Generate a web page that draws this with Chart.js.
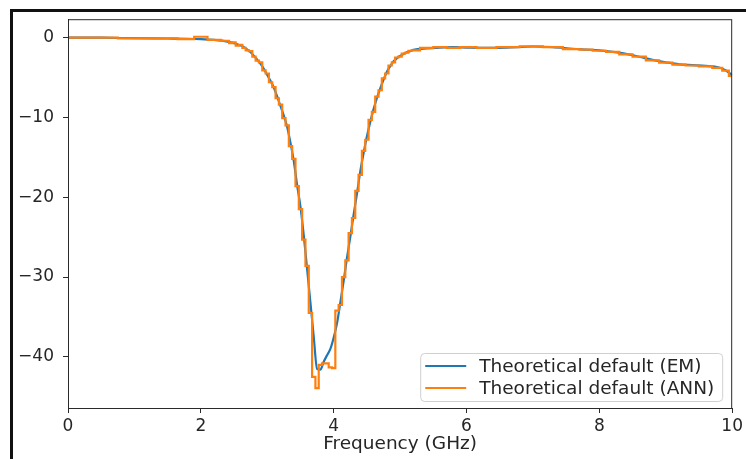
<!DOCTYPE html>
<html>
<head>
<meta charset="utf-8">
<script src="https://cdn.jsdelivr.net/npm/chart.js@4/dist/chart.umd.min.js"></script>
<style>
  body { margin: 0; background: #fff; }
  #wrap { position: relative; width: 746px; height: 459px; overflow: hidden; }
  #frame { position: absolute; left: 10px; top: 9px; right: -5px; bottom: -5px;
           border-left: 3px solid #111; border-top: 3px solid #111; }
  canvas { position: absolute; left: 0; top: 0; }
</style>
</head>
<body>
<div id="wrap">
  <canvas id="s-param" width="746" height="459"></canvas>
  <div id="frame"></div>
</div>
<script>
// frequency grid in GHz, denser around the notch
const frequencies = [0, 0.5, 1.0, 1.5, 1.8, 2.0, 2.2,
    2.4, 2.45, 2.5, 2.55, 2.6, 2.65, 2.7, 2.75, 2.8, 2.85, 2.9, 2.95,
    3.0, 3.05, 3.1, 3.15, 3.2, 3.25, 3.3, 3.35, 3.4, 3.45, 3.5, 3.55, 3.6, 3.65, 3.7, 3.75,
    3.8, 3.85, 3.9, 3.95, 4.0, 4.05, 4.1, 4.15, 4.2, 4.25, 4.3, 4.35, 4.4, 4.45, 4.5, 4.55,
    4.6, 4.65, 4.7, 4.75, 4.8, 4.85, 4.9, 4.95, 5.0, 5.05, 5.1, 5.15, 5.2,
    5.4, 5.6, 5.8, 6.0, 6.3, 6.6, 7.0, 7.3,
    7.6, 7.8, 8.0, 8.2, 8.4, 8.6, 8.8, 9.0, 9.2, 9.4, 9.6, 9.8, 9.9, 10.0];

const emValues = [0, -0.02, -0.08, -0.12, -0.15, -0.2, -0.3,
    -0.5, -0.6, -0.7, -0.85, -1.0, -1.2, -1.5, -1.85, -2.3, -2.8, -3.3, -3.95,
    -4.7, -5.45, -6.3, -7.4, -8.6, -9.8, -11.2, -13.2, -15.5, -18.5, -21.2, -24.8, -29, -33.2, -37.5, -41.5,
    -41.6, -40.6, -39.8, -39, -37.6, -35.8, -33.2, -30.5, -27.6, -25, -22.2, -19.6, -16.8, -14.5, -12.4, -10.6,
    -9.0, -7.6, -6.4, -5.3, -4.3, -3.6, -3.0, -2.6, -2.3, -2.05, -1.85, -1.7, -1.55,
    -1.35, -1.25, -1.2, -1.25, -1.3, -1.25, -1.12, -1.2,
    -1.4, -1.5, -1.6, -1.8, -2.05, -2.4, -2.8, -3.1, -3.35, -3.45, -3.55, -3.75, -4.1, -4.7];

const annValues = [0, 0, -0.1, -0.1, -0.2, 0.1, -0.3,
    -0.4, -0.7, -0.6, -1.0, -0.9, -1.3, -1.6, -1.7, -2.4, -2.9, -3.1, -4.1,
    -4.5, -5.6, -6.2, -7.6, -8.4, -10.1, -11.0, -13.6, -15.2, -18.6, -21.5, -25.3, -28.6, -34.5, -42.5, -43.9,
    -41.0, -40.8, -40.8, -41.3, -41.4, -34.2, -33.5, -30.0, -27.9, -24.5, -22.6, -19.2, -17.2, -14.2, -12.8, -10.3,
    -9.3, -7.4, -6.6, -5.1, -4.5, -3.5, -3.1, -2.5, -2.4, -2.0, -1.9, -1.65, -1.6,
    -1.3, -1.2, -1.3, -1.2, -1.3, -1.2, -1.1, -1.2,
    -1.45, -1.5, -1.65, -1.8, -2.1, -2.4, -2.85, -3.15, -3.4, -3.5, -3.6, -3.8, -4.15, -4.8];

const xTicks = [0, 2, 4, 6, 8, 10];
const yTicks = [0, -10, -20, -30, -40];

const textColor = '#262626';
const axisColor = '#2a2a2a';

function minusFormat(v) {
    return v < 0 ? '\u2212' + Math.abs(v) : String(v);
}

function toPoints(values) {
    return frequencies.map((f, i) => ({x: f, y: values[i]}));
}

// top/right spines, chart.js only draws the bottom/left ones
const frameBox = {
    id: 'frameBox',
    afterDatasetsDraw(chart) {
        const {ctx, chartArea} = chart;
        ctx.save();
        ctx.strokeStyle = axisColor;
        ctx.lineWidth = 1;
        ctx.strokeRect(chartArea.left + 0.5, chartArea.top + 0.5,
            chartArea.right - chartArea.left - 1, chartArea.bottom - chartArea.top);
        ctx.restore();
    }
};

// matplotlib style legend in the lower right corner of the plot
const insideLegend = {
    id: 'insideLegend',
    afterDraw(chart) {
        const {ctx, chartArea} = chart;
        const sets = chart.data.datasets;
        ctx.save();
        ctx.font = '18.5px "DejaVu Sans"';
        const textW = Math.max(...sets.map(d => ctx.measureText(d.label).width));
        const w = 59 + textW + 8;
        const h = 48;
        const right = chartArea.right - 10;
        const bottom = chartArea.bottom - 7;
        const left = right - w;
        const top = bottom - h;

        ctx.beginPath();
        ctx.roundRect(left + 0.5, top + 0.5, w, h, 4);
        ctx.fillStyle = 'rgba(255,255,255,0.8)';
        ctx.fill();
        ctx.strokeStyle = '#d0d0d0';
        ctx.lineWidth = 1;
        ctx.stroke();

        sets.forEach((d, i) => {
            const y = top + 13 + i * 22;
            ctx.beginPath();
            ctx.moveTo(left + 5, y);
            ctx.lineTo(left + 46, y);
            ctx.strokeStyle = d.borderColor;
            ctx.lineWidth = 2;
            ctx.stroke();
            ctx.fillStyle = textColor;
            ctx.textBaseline = 'middle';
            ctx.fillText(d.label, left + 59, y + 1);
        });
        ctx.restore();
    }
};

const canvas = document.getElementById('s-param');

new Chart(canvas, {
    type: 'line',
    data: {
        datasets: [{
            label: 'Theoretical default (EM)',
            data: toPoints(emValues),
            borderColor: '#1f77b4',
            borderWidth: 2.2,
            cubicInterpolationMode: 'monotone',
            order: 1
        }, {
            label: 'Theoretical default (ANN)',
            data: toPoints(annValues),
            borderColor: '#ff7f0e',
            borderWidth: 2.2,
            stepped: 'middle',
            order: 0
        }]
    },
    options: {
        responsive: false,
        animation: false,
        devicePixelRatio: 1,
        elements: {point: {radius: 0}},
        layout: {padding: {left: 0, top: 16, right: 13, bottom: 0}},
        plugins: {
            legend: {display: false},
            tooltip: {enabled: false}
        },
        scales: {
            x: {
                type: 'linear',
                min: 0,
                max: 10,
                afterBuildTicks: s => { s.ticks = xTicks.map(v => ({value: v})); },
                afterFit: s => { s.height = 51; },
                ticks: {
                    color: textColor,
                    font: {family: 'DejaVu Sans', size: 17},
                    padding: 3,
                    maxRotation: 0,
                    callback: minusFormat
                },
                grid: {drawOnChartArea: false, tickLength: 5, color: axisColor},
                border: {color: axisColor, width: 1},
                title: {
                    display: true,
                    text: 'Frequency (GHz)',
                    color: textColor,
                    font: {family: 'DejaVu Sans', size: 18.5},
                    padding: {top: 0, bottom: 4}
                }
            },
            y: {
                min: -46.4,
                max: 2.3,
                afterBuildTicks: s => { s.ticks = yTicks.map(v => ({value: v})); },
                afterFit: s => { s.width = 68; },
                ticks: {
                    color: textColor,
                    font: {family: 'DejaVu Sans', size: 17},
                    padding: 9,
                    callback: minusFormat
                },
                grid: {drawOnChartArea: false, tickLength: 5, color: axisColor},
                border: {color: axisColor, width: 1}
            }
        }
    },
    plugins: [frameBox, insideLegend]
});
</script>
</body>
</html>
